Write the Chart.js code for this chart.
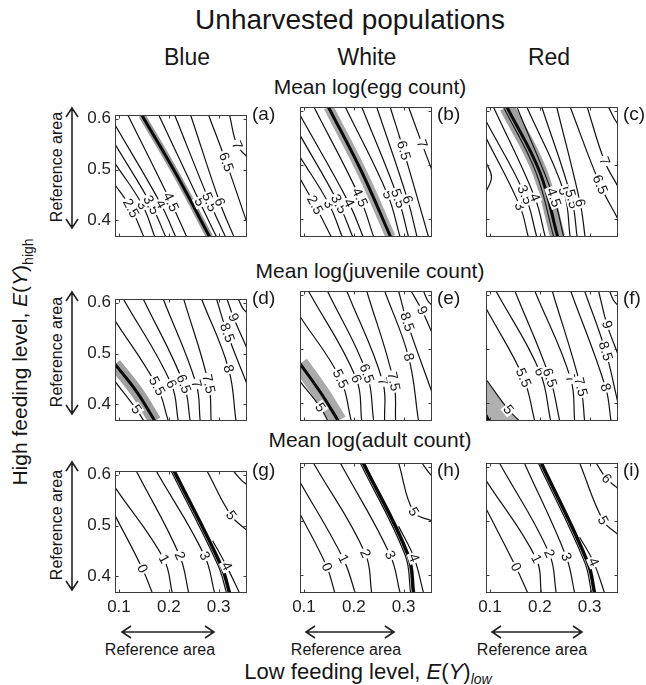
<!DOCTYPE html>
<html>
<head>
<meta charset="utf-8">
<script src="https://cdn.jsdelivr.net/npm/chart.js@4.4.0/dist/chart.umd.min.js"></script>
<style>
  body { margin: 0; background: #fff; }
  #fig { position: relative; width: 646px; height: 685px; overflow: hidden;
         font-family: "Liberation Sans", Arial, sans-serif; color: #161616; }
  .t { position: absolute; white-space: nowrap; line-height: 1; transform: translateX(-50%); }
  .tag { position: absolute; white-space: nowrap; line-height: 1; font-size: 19px; }
  .rot { position: absolute; white-space: nowrap; line-height: 1; transform: translate(-50%, -50%) rotate(-90deg); }
  canvas { position: absolute; }
  svg { position: absolute; left: 0; top: 0; }
</style>
</head>
<body>
<div id="fig">
  <div class="t" style="left:350px;top:6px;font-size:28px">Unharvested populations</div>
  <div class="t" style="left:187px;top:46px;font-size:23px">Blue</div>
  <div class="t" style="left:367px;top:46px;font-size:23px">White</div>
  <div class="t" style="left:549px;top:46px;font-size:23px">Red</div>
  <div class="t" style="left:370px;top:76px;font-size:21px">Mean log(egg count)</div>
  <div class="t" style="left:370px;top:260px;font-size:21px">Mean log(juvenile count)</div>
  <div class="t" style="left:370px;top:429px;font-size:21px">Mean log(adult count)</div>
  <div class="t" style="left:368px;top:661px;font-size:22px">Low feeding level, <i>E</i>(<i>Y</i>)<sub style="font-size:14px"><i>low</i></sub></div>
  <div class="rot" style="left:22px;top:362px;font-size:21px">High feeding level, <i>E</i>(<i>Y</i>)<sub style="font-size:14px">high</sub></div>
  <div class="t" style="left:160px;top:642px;font-size:16px">Reference area</div>
  <div class="t" style="left:346px;top:642px;font-size:16px">Reference area</div>
  <div class="t" style="left:532px;top:642px;font-size:16px">Reference area</div>
  <div class="rot" style="left:57px;top:167px;font-size:16px">Reference area</div>
  <div class="rot" style="left:57px;top:352px;font-size:16px">Reference area</div>
  <div class="rot" style="left:57px;top:525px;font-size:16px">Reference area</div>
  <svg width="646" height="685" id="arrows"></svg>
</div>
<script>
// axis extents and ticks shared by all nine panels
const xRange = [0.092, 0.357];
const yRange = [0.367, 0.607];
const xTicks = [0.1, 0.2, 0.3];
const yTicks = [0.4, 0.5, 0.6];

// contour lines: each one is [entry, label point, exit]
// Mean log(egg count)
const eggBlueLevels = ["2.5", "3", "3.5", "4", "4.5", "5", "5.5", "6", "6.5", "7"];
const eggBlueLines = [
  [[0.092, 0.470], [0.124, 0.424], [0.150, 0.367]],
  [[0.092, 0.512], [0.147, 0.430], [0.172, 0.367]],
  [[0.092, 0.550], [0.165, 0.430], [0.194, 0.367]],
  [[0.092, 0.588], [0.184, 0.432], [0.214, 0.367]],
  [[0.118, 0.607], [0.204, 0.436], [0.236, 0.367]],
  [[0.180, 0.607], [0.262, 0.436], [0.296, 0.367]],
  [[0.212, 0.607], [0.282, 0.436], [0.314, 0.367]],
  [[0.244, 0.607], [0.302, 0.436], [0.331, 0.367]],
  [[0.280, 0.607], [0.315, 0.515], [0.357, 0.395]],
  [[0.322, 0.607], [0.337, 0.548], [0.357, 0.525]]
];
const eggBlueThick = [[0.146, 0.607], [0.217, 0.487], [0.282, 0.367]];

const eggWhiteLevels = ["2.5", "3", "3.5", "4", "4.5", "5", "5.5", "6", "6.5", "7"];
const eggWhiteLines = [
  [[0.092, 0.475], [0.122, 0.426], [0.155, 0.367]],
  [[0.092, 0.515], [0.150, 0.428], [0.177, 0.367]],
  [[0.092, 0.555], [0.170, 0.428], [0.198, 0.367]],
  [[0.092, 0.592], [0.190, 0.430], [0.219, 0.367]],
  [[0.120, 0.607], [0.212, 0.440], [0.240, 0.367]],
  [[0.183, 0.607], [0.268, 0.445], [0.293, 0.367]],
  [[0.216, 0.607], [0.289, 0.438], [0.310, 0.367]],
  [[0.246, 0.607], [0.308, 0.436], [0.327, 0.367]],
  [[0.273, 0.607], [0.300, 0.527], [0.350, 0.367]],
  [[0.310, 0.607], [0.337, 0.539], [0.357, 0.490]]
];
const eggWhiteThick = [[0.149, 0.607], [0.216, 0.487], [0.274, 0.367]];

const eggRedLevels = ["3", "3.5", "4", null, "4.5", "5", "5.5", "6", "6.5", "7", null];
const eggRedLines = [
  [[0.092, 0.550], [0.160, 0.424], [0.177, 0.367]],
  [[0.092, 0.581], [0.170, 0.445], [0.194, 0.367]],
  [[0.107, 0.607], [0.190, 0.440], [0.211, 0.367]],
  [[0.092, 0.505], [0.103, 0.478], [0.092, 0.450]],
  [[0.154, 0.607], [0.228, 0.440], [0.248, 0.367]],
  [[0.174, 0.607], [0.248, 0.452], [0.261, 0.367]],
  [[0.204, 0.607], [0.264, 0.437], [0.275, 0.367]],
  [[0.234, 0.607], [0.281, 0.430], [0.291, 0.367]],
  [[0.261, 0.607], [0.321, 0.464], [0.357, 0.400]],
  [[0.295, 0.607], [0.330, 0.507], [0.357, 0.460]],
  [[0.338, 0.607], [0.350, 0.585], [0.357, 0.575]]
];
const eggRedThick = [[0.134, 0.607], [0.200, 0.487], [0.236, 0.367]];
const eggRedEdge = [[0.127, 0.607], [0.192, 0.487], [0.228, 0.367]];

// Mean log(juvenile count)
const juvBlueLevels = ["5", "5.5", "6", "6.5", "7", "7.5", "8", "8.5", "9", null];
const juvBlueLines = [
  [[0.092, 0.445], [0.135, 0.390], [0.150, 0.367]],
  [[0.092, 0.565], [0.176, 0.436], [0.199, 0.367]],
  [[0.109, 0.607], [0.205, 0.440], [0.219, 0.367]],
  [[0.149, 0.607], [0.230, 0.440], [0.243, 0.367]],
  [[0.189, 0.607], [0.255, 0.440], [0.263, 0.367]],
  [[0.230, 0.607], [0.280, 0.440], [0.285, 0.367]],
  [[0.266, 0.607], [0.320, 0.470], [0.335, 0.367]],
  [[0.296, 0.607], [0.317, 0.541], [0.357, 0.440]],
  [[0.317, 0.607], [0.330, 0.571], [0.357, 0.510]],
  [[0.340, 0.607], [0.348, 0.590], [0.357, 0.580]]
];
const juvBlueThick = [[0.092, 0.479], [0.136, 0.424], [0.172, 0.367]];

const juvWhiteLevels = ["5", "5.5", "6", "6.5", "7", "7.5", "8", "8.5", "9", null];
const juvWhiteLines = [
  [[0.092, 0.440], [0.133, 0.392], [0.148, 0.367]],
  [[0.092, 0.560], [0.173, 0.445], [0.195, 0.367]],
  [[0.109, 0.607], [0.205, 0.445], [0.216, 0.367]],
  [[0.147, 0.607], [0.226, 0.455], [0.240, 0.367]],
  [[0.186, 0.607], [0.258, 0.440], [0.262, 0.367]],
  [[0.226, 0.607], [0.280, 0.440], [0.284, 0.367]],
  [[0.262, 0.607], [0.310, 0.485], [0.330, 0.367]],
  [[0.290, 0.607], [0.307, 0.550], [0.357, 0.420]],
  [[0.315, 0.607], [0.337, 0.571], [0.357, 0.530]],
  [[0.340, 0.607], [0.348, 0.590], [0.357, 0.580]]
];
const juvWhiteThick = [[0.092, 0.473], [0.133, 0.420], [0.169, 0.367]];

const juvRedLevels = ["5.5", "6", "6.5", "7", "7.5", "8", "8.5", "9", null];
const juvRedLines = [
  [[0.092, 0.575], [0.167, 0.447], [0.190, 0.367]],
  [[0.112, 0.607], [0.200, 0.458], [0.222, 0.367]],
  [[0.150, 0.607], [0.220, 0.447], [0.240, 0.367]],
  [[0.190, 0.607], [0.262, 0.445], [0.270, 0.367]],
  [[0.225, 0.607], [0.282, 0.430], [0.290, 0.367]],
  [[0.262, 0.607], [0.332, 0.429], [0.343, 0.367]],
  [[0.290, 0.607], [0.332, 0.496], [0.357, 0.400]],
  [[0.318, 0.607], [0.335, 0.545], [0.357, 0.490]],
  [[0.340, 0.607], [0.348, 0.590], [0.357, 0.580]]
];
const juvRedFive = [[0.092, 0.444], [0.137, 0.388], [0.159, 0.367]];
const juvRedThick = [[0.092, 0.378], [0.095, 0.372], [0.098, 0.367]];

// Mean log(adult count)
const adultBlueLevels = ["0", "1", "2", "3", "4", "5", null];
const adultBlueLines = [
  [[0.092, 0.520], [0.147, 0.415], [0.167, 0.367]],
  [[0.092, 0.575], [0.190, 0.434], [0.207, 0.367]],
  [[0.135, 0.607], [0.222, 0.440], [0.240, 0.367]],
  [[0.175, 0.607], [0.272, 0.440], [0.292, 0.367]],
  [[0.288, 0.470], [0.316, 0.420], [0.342, 0.367]],
  [[0.277, 0.607], [0.325, 0.520], [0.357, 0.490]],
  [[0.330, 0.607], [0.345, 0.590], [0.357, 0.580]]
];
const adultBlueThick = [[0.211, 0.607], [0.305, 0.421], [0.322, 0.367]];

const adultWhiteLevels = ["0", "1", "2", "3", "4", "5", null];
const adultWhiteLines = [
  [[0.092, 0.513], [0.146, 0.415], [0.162, 0.367]],
  [[0.092, 0.572], [0.179, 0.430], [0.203, 0.367]],
  [[0.119, 0.607], [0.223, 0.440], [0.236, 0.367]],
  [[0.173, 0.607], [0.273, 0.437], [0.293, 0.367]],
  [[0.290, 0.490], [0.321, 0.432], [0.340, 0.367]],
  [[0.290, 0.607], [0.320, 0.517], [0.357, 0.500]],
  [[0.337, 0.607], [0.350, 0.590], [0.357, 0.583]]
];
const adultWhiteThick = [[0.219, 0.607], [0.309, 0.437], [0.320, 0.367]];

const adultRedLevels = ["0", "1", "2", "3", "4", "5", "6"];
const adultRedLines = [
  [[0.092, 0.523], [0.152, 0.415], [0.176, 0.367]],
  [[0.092, 0.575], [0.193, 0.430], [0.203, 0.367]],
  [[0.119, 0.607], [0.219, 0.440], [0.233, 0.367]],
  [[0.169, 0.607], [0.253, 0.434], [0.270, 0.367]],
  [[0.280, 0.470], [0.308, 0.424], [0.330, 0.367]],
  [[0.280, 0.607], [0.327, 0.501], [0.357, 0.475]],
  [[0.313, 0.607], [0.334, 0.578], [0.357, 0.560]]
];
const adultRedThick = [[0.203, 0.607], [0.296, 0.424], [0.310, 0.367]];

const colLeft = [115, 300, 486];
const rowTop = [107, 291, 463];
const boxW = 132, boxH = 130;
const FONT = '"Liberation Sans", Arial, sans-serif';

function lineSet(pts, color, width) {
  return {
    data: pts.map(p => ({ x: p[0], y: p[1] })),
    showLine: true, borderColor: color, borderWidth: width,
    pointRadius: 0, tension: 0.4, fill: false
  };
}

const panels = [
  { tag: "(a)", r: 0, c: 0, levels: eggBlueLevels, lines: eggBlueLines, thick: eggBlueThick, band: 7, bandColor: "#9a9a9a" },
  { tag: "(b)", r: 0, c: 1, levels: eggWhiteLevels, lines: eggWhiteLines, thick: eggWhiteThick, band: 10, bandColor: "#a8a8a8" },
  { tag: "(c)", r: 0, c: 2, levels: eggRedLevels, lines: eggRedLines, thick: eggRedThick, band: 15, bandColor: "#a0a0a0", edge: eggRedEdge },
  { tag: "(d)", r: 1, c: 0, levels: juvBlueLevels, lines: juvBlueLines, thick: juvBlueThick, band: 13, bandColor: "#a0a0a0" },
  { tag: "(e)", r: 1, c: 1, levels: juvWhiteLevels, lines: juvWhiteLines, thick: juvWhiteThick, band: 17, bandColor: "#aaaaaa" },
  { tag: "(f)", r: 1, c: 2, levels: juvRedLevels, lines: juvRedLines, thick: juvRedThick, fillLine: juvRedFive },
  { tag: "(g)", r: 2, c: 0, levels: adultBlueLevels, lines: adultBlueLines, thick: adultBlueThick, double: true },
  { tag: "(h)", r: 2, c: 1, levels: adultWhiteLevels, lines: adultWhiteLines, thick: adultWhiteThick, double: true },
  { tag: "(i)", r: 2, c: 2, levels: adultRedLevels, lines: adultRedLines, thick: adultRedThick, double: true }
];

// box and inward tick marks, MATLAB style
const frame = {
  id: "frame",
  afterDatasetsDraw(chart) {
    const { ctx, chartArea: a, scales: { x, y } } = chart;
    const L = Math.round(a.left) + 0.5, T = Math.round(a.top) + 0.5;
    const R = Math.round(a.right) - 0.5, B = Math.round(a.bottom) - 0.5;
    ctx.save();
    ctx.strokeStyle = "#3c3c3c";
    ctx.lineWidth = 1;
    ctx.strokeRect(L, T, R - L, B - T);
    ctx.beginPath();
    xTicks.forEach(v => {
      const px = Math.round(x.getPixelForValue(v)) + 0.5;
      ctx.moveTo(px, B); ctx.lineTo(px, B - 3);
      ctx.moveTo(px, T); ctx.lineTo(px, T + 3);
    });
    yTicks.forEach(v => {
      const py = Math.round(y.getPixelForValue(v)) + 0.5;
      ctx.moveTo(L, py); ctx.lineTo(L + 3, py);
      ctx.moveTo(R, py); ctx.lineTo(R - 3, py);
    });
    ctx.stroke();
    ctx.restore();
  }
};

function labelPlugin(items) {
  return {
    id: "contourLabels",
    afterDatasetsDraw(chart) {
      const { ctx, chartArea: a, scales: { x, y } } = chart;
      ctx.save();
      ctx.beginPath();
      ctx.rect(a.left, a.top, a.width, a.height);
      ctx.clip();
      ctx.font = "14px " + FONT;
      ctx.textAlign = "center";
      ctx.textBaseline = "middle";
      items.forEach(([text, pts]) => {
        const px = pts.map(q => [x.getPixelForValue(q[0]), y.getPixelForValue(q[1])]);
        let ang = Math.atan2(px[2][1] - px[0][1], px[2][0] - px[0][0]);
        if (ang > Math.PI / 2) ang -= Math.PI;
        if (ang < -Math.PI / 2) ang += Math.PI;
        ctx.save();
        ctx.translate(px[1][0], px[1][1]);
        ctx.rotate(ang);
        const w = ctx.measureText(text).width;
        ctx.fillStyle = "#fff";
        ctx.fillRect(-w / 2 - 1.5, -6, w + 3, 12);
        ctx.fillStyle = "#161616";
        ctx.fillText(text, 0, 0.5);
        ctx.restore();
      });
      ctx.restore();
    }
  };
}

const fig = document.getElementById("fig");

panels.forEach(p => {
  const showX = p.r === 2, showY = p.c === 0;
  const cv = document.createElement("canvas");
  cv.width = 178; cv.height = 164;
  cv.style.left = (colLeft[p.c] - 40) + "px";
  cv.style.top = (rowTop[p.r] - 6) + "px";
  fig.appendChild(cv);

  const tag = document.createElement("div");
  tag.className = "tag";
  tag.textContent = p.tag;
  tag.style.left = (colLeft[p.c] + boxW + 5) + "px";
  tag.style.top = (rowTop[p.r] - 3) + "px";
  fig.appendChild(tag);

  // Chart.js paints dataset 0 last, so the list goes from top layer to bottom layer
  const datasets = [];
  datasets.push(lineSet(p.thick, "#0a0a0a", p.double ? 3.5 : 3));
  if (p.double) {
    // double line: thin companion to the left of the thick one
    datasets.push(lineSet(p.thick.map(q => [q[0] - 0.006, q[1]]), "#111", 1.2));
  }
  if (p.edge) datasets.push(lineSet(p.edge, "#222", 1.2));
  p.lines.forEach(l => datasets.push(lineSet(l, "#111", 1.2)));
  if (p.band) datasets.push(lineSet(p.thick, p.bandColor, p.band));
  if (p.fillLine) {
    const f = lineSet(p.fillLine, "#1a1a1a", 1.2);
    f.fill = "start";
    f.backgroundColor = "#b0b0b0";
    datasets.push(f);
  }

  const items = [];
  p.lines.forEach((l, i) => { if (p.levels[i]) items.push([p.levels[i], l]); });
  if (p.fillLine) items.push(["5", p.fillLine]);

  new Chart(cv, {
    type: "scatter",
    data: { datasets },
    options: {
      responsive: false,
      animation: false,
      events: [],
      layout: { padding: { left: 4, right: 6, top: 6, bottom: 4 } },
      plugins: { legend: { display: false }, tooltip: { enabled: false } },
      scales: {
        x: {
          type: "linear", min: xRange[0], max: xRange[1],
          afterBuildTicks: s => { s.ticks = xTicks.map(v => ({ value: v })); },
          afterFit: s => { s.height = 24; },
          ticks: { display: showX, color: "#222", font: { family: FONT, size: 17 }, padding: 4,
                   maxRotation: 0, autoSkip: false, callback: v => v.toFixed(1) },
          grid: { display: false, drawTicks: false },
          border: { display: false }
        },
        y: {
          type: "linear", min: yRange[0], max: yRange[1],
          afterBuildTicks: s => { s.ticks = yTicks.map(v => ({ value: v })); },
          afterFit: s => { s.width = 36; },
          ticks: { display: showY, color: "#222", font: { family: FONT, size: 17 }, padding: 4,
                   autoSkip: false, callback: v => v.toFixed(1) },
          grid: { display: false, drawTicks: false },
          border: { display: false }
        }
      }
    },
    plugins: [frame, labelPlugin(items)]
  });
});

// double-headed "Reference area" arrows
const svg = document.getElementById("arrows");
function arrow(x1, y1, x2, y2) {
  const ns = "http://www.w3.org/2000/svg";
  const g = document.createElementNS(ns, "path");
  const dx = x2 - x1, dy = y2 - y1, len = Math.hypot(dx, dy);
  const ux = dx / len, uy = dy / len, nx = -uy, ny = ux, h = 9, w = 6;
  const d = `M${x1},${y1} L${x2},${y2} ` +
    `M${x1 + ux * h + nx * w},${y1 + uy * h + ny * w} L${x1},${y1} L${x1 + ux * h - nx * w},${y1 + uy * h - ny * w} ` +
    `M${x2 - ux * h + nx * w},${y2 - uy * h + ny * w} L${x2},${y2} L${x2 - ux * h - nx * w},${y2 - uy * h - ny * w}`;
  g.setAttribute("d", d);
  g.setAttribute("stroke", "#222");
  g.setAttribute("stroke-width", "1.6");
  g.setAttribute("fill", "none");
  svg.appendChild(g);
}
arrow(122, 632, 214, 632);
arrow(306, 632, 394, 632);
arrow(492, 632, 582, 632);
arrow(72, 108, 72, 228);
arrow(72, 292, 72, 414);
arrow(72, 462, 72, 590);
</script>
</body>
</html>
